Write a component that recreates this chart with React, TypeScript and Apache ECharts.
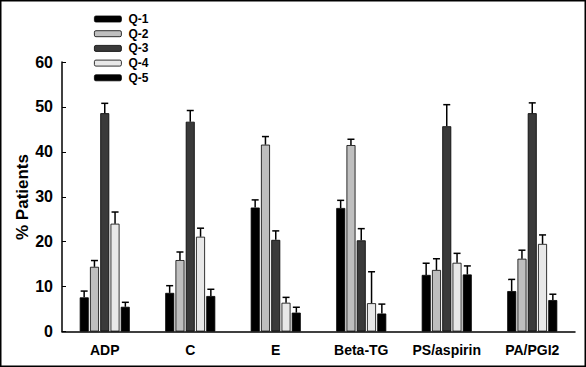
import React, { useEffect, useRef } from "react";
import * as echarts from "echarts";

const categories = ["ADP", "C", "E", "Beta-TG", "PS/aspirin", "PA/PGI2"];
const seriesNames = ["Q-1", "Q-2", "Q-3", "Q-4", "Q-5"];
const q1 = [7.6, 8.6, 27.6, 27.5, 12.6, 9.0];
const q2 = [14.4, 15.9, 41.6, 41.5, 13.7, 16.2];
const q3 = [48.6, 46.7, 20.4, 20.3, 45.7, 48.6];
const q4 = [24.0, 21.1, 6.4, 6.3, 15.3, 19.5];
const q5 = [5.5, 7.9, 4.2, 4.0, 12.7, 7.0];
const q1Err = [9.0, 10.2, 29.3, 29.2, 15.2, 11.6];
const q2Err = [15.8, 17.7, 43.4, 42.8, 16.2, 18.1];
const q3Err = [50.8, 49.2, 22.4, 22.9, 50.5, 50.9];
const q4Err = [26.6, 23.0, 7.6, 13.3, 17.4, 21.5];
const q5Err = [6.5, 9.4, 5.4, 6.1, 14.6, 8.3];
const yTicks = [0, 10, 20, 30, 40, 50, 60];

const colors = ["#000000", "#bfbfbf", "#3a3a3a", "#e8e8e8", "#000000"];
const values = [q1, q2, q3, q4, q5];
const errs = [q1Err, q2Err, q3Err, q4Err, q5Err];

const FONT = "'Liberation Sans', Arial, sans-serif";
const BAR_W = 9;
const PITCH = 10.3;

export default function App() {
  const ref = useRef<HTMLDivElement>(null);
  useEffect(() => {
    if (!ref.current) return;
    const chart = echarts.init(ref.current, undefined, { renderer: "svg" });
    const barSeries = seriesNames.map((name, i) => ({
      type: "bar",
      name,
      data: values[i],
      barWidth: BAR_W,
      barGap: "14%",
      barCategoryGap: "40%",
      itemStyle: { color: colors[i], borderColor: "#000", borderWidth: 0.8 },
      z: 2,
    }));
    const errSeries = seriesNames.map((name, i) => ({
      type: "custom",
      name: "err-" + name,
      data: categories.map((_, c) => [c, values[i][c], errs[i][c]]),
      encode: { x: 0, y: [1, 2] },
      z: 3,
      renderItem: (params: any, api: any) => {
        const c = api.value(0);
        const top = api.coord([c, api.value(1)]);
        const hi = api.coord([c, api.value(2)]);
        const x = top[0] + (i - 2) * PITCH;
        const capHalf = 3.5;
        return {
          type: "group",
          children: [
            {
              type: "line",
              shape: { x1: x, y1: top[1], x2: x, y2: hi[1] },
              style: { stroke: "#000", lineWidth: 1.5 },
            },
            {
              type: "line",
              shape: { x1: x - capHalf, y1: hi[1], x2: x + capHalf, y2: hi[1] },
              style: { stroke: "#000", lineWidth: 1.5 },
            },
          ],
        };
      },
    }));
    chart.setOption({
      animation: false,
      grid: { left: 62, right: 11, top: 62, bottom: 35.5, containLabel: false },
      legend: {
        orient: "vertical",
        left: 89,
        top: 8,
        data: seriesNames,
        itemWidth: 27,
        itemHeight: 6,
        itemGap: 2.7,
        textStyle: {
          fontFamily: FONT,
          fontWeight: "bold",
          fontSize: 12,
          color: "#000",
          lineHeight: 12,
          padding: [0, 0, 0, 2],
        },
        itemStyle: { borderColor: "#000", borderWidth: 0.8 },
        selectedMode: false,
      },
      xAxis: {
        type: "category",
        data: categories,
        axisTick: { show: false },
        axisLine: { lineStyle: { color: "#000", width: 1.5 } },
        axisLabel: {
          interval: 0,
          fontFamily: FONT,
          fontWeight: "bold",
          fontSize: 14,
          color: "#000",
          margin: 11,
        },
      },
      yAxis: {
        type: "value",
        min: yTicks[0],
        max: yTicks[yTicks.length - 1],
        interval: 10,
        splitLine: { show: false },
        axisLine: { show: true, lineStyle: { color: "#000", width: 1.5 } },
        axisTick: { show: true, inside: true, length: 4, lineStyle: { color: "#000", width: 1 } },
        axisLabel: { fontFamily: FONT, fontWeight: "bold", fontSize: 16, color: "#000", margin: 9 },
      },
      graphic: [
        {
          type: "rect",
          shape: { x: 0.75, y: 0.75, width: 584.5, height: 365.5 },
          style: { fill: "none", stroke: "#000", lineWidth: 1.5 },
          silent: true,
        },
        {
          type: "text",
          x: 22,
          y: 197,
          rotation: Math.PI / 2,
          style: {
            text: "% Patients",
            fontFamily: FONT,
            fontWeight: "bold",
            fontSize: 17,
            fill: "#000",
            align: "center",
            verticalAlign: "middle",
          },
        },
      ],
      series: [...barSeries, ...errSeries],
    });
    return () => chart.dispose();
  }, []);
  return (
    <div style={{ position: "fixed", left: 0, top: 0, width: 586, height: 367, background: "#fff" }}>
      <div ref={ref} style={{ width: 586, height: 367 }} />
    </div>
  );
}
